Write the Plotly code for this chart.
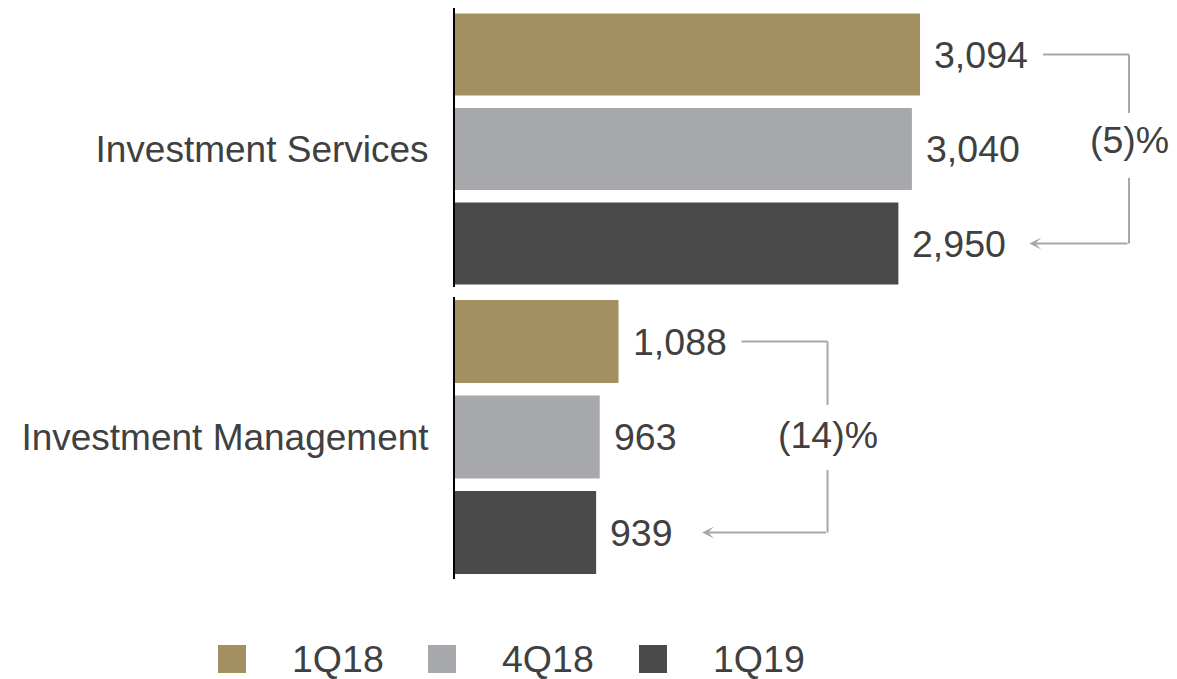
import plotly.graph_objects as go

# ---------------- data ----------------
categories = ["Investment Services", "Investment Management"]
series = ["1Q18", "4Q18", "1Q19"]
values_1q18 = [3094, 1088]
values_4q18 = [3040, 963]
values_1q19 = [2950, 939]
changes = ["(5)%", "(14)%"]

# ---------------- style ----------------
colors = ["#A38F5F", "#A7A8AC", "#4A4A4A"]
text_color = "#404040"
bracket_color = "#A6A7AA"
FONT = "Liberation Sans, Arial, sans-serif"
FS = 37.5
FS_CAT = 37

OFF = 8                      # page body margin compensation
W, H = 1177 - OFF, 679 - OFF
L = 455 - OFF                # left edge of bars (px in figure)
PX = 0.1503                  # px per data unit
xmax = (W - L) / PX


def py(ref_px):
    """reference-image y pixel -> figure paper fraction"""
    return min(1.0, max(0.0, 1 - (ref_px - OFF) / H))


def pxx(ref_px):
    """reference-image x pixel -> figure paper fraction (relative to plot area)"""
    return (ref_px - OFF - L) / (W - L)


series_values = [values_1q18, values_4q18, values_1q19]
xaxes = ["x", "x2"]
yaxes = ["y", "y2"]

fig = go.Figure()
for i, (name, vals, col) in enumerate(zip(series, series_values, colors)):
    for j, cat in enumerate(categories):
        fig.add_trace(go.Bar(
            x=[vals[j]], y=[cat], orientation="h", name=name,
            marker=dict(color=col, line=dict(width=0)),
            showlegend=False, xaxis=xaxes[j], yaxis=yaxes[j],
            hovertemplate=f"{name}: %{{x:,}}<extra></extra>",
        ))

annotations = []
shapes = []
offsets = [-1 / 3, 0, 1 / 3]

# value labels
for i, vals in enumerate(series_values):
    for j in range(len(categories)):
        annotations.append(dict(
            x=vals[j], y=offsets[i], xref=xaxes[j], yref=yaxes[j],
            text=f"{vals[j]:,}", showarrow=False, xanchor="left", yanchor="middle",
            xshift=12, font=dict(family=FONT, size=FS, color=text_color),
        ))

# change brackets
start_px = 123
vert_px = 209
tip_px = [131, 106]
gap = [(-0.127, 0.102), (-0.112, 0.115)]
text_shift = [9, 2]
for j in range(len(categories)):
    xr, yr = xaxes[j], yaxes[j]
    x_start = values_1q18[j] + start_px / PX
    x_vert = values_1q18[j] + vert_px / PX
    x_tip = values_1q19[j] + tip_px[j] / PX
    line = dict(color=bracket_color, width=2)
    shapes.append(dict(type="line", xref=xr, yref=yr, x0=x_start, x1=x_vert,
                       y0=offsets[0], y1=offsets[0], line=line))
    shapes.append(dict(type="line", xref=xr, yref=yr, x0=x_vert, x1=x_vert,
                       y0=offsets[0], y1=gap[j][0], line=line))
    shapes.append(dict(type="line", xref=xr, yref=yr, x0=x_vert, x1=x_vert,
                       y0=gap[j][1], y1=offsets[2], line=line))
    annotations.append(dict(
        x=x_tip, y=offsets[2], ax=x_vert, ay=offsets[2], xref=xr, yref=yr,
        axref=xr, ayref=yr, text="", showarrow=True, arrowhead=3, arrowsize=1,
        arrowwidth=2, arrowcolor=bracket_color, standoff=0, startstandoff=0,
    ))
    annotations.append(dict(
        x=x_vert, y=0, xref=xr, yref=yr, text=changes[j], showarrow=False,
        xanchor="center", yanchor="middle", yshift=text_shift[j],
        font=dict(family=FONT, size=FS, color=text_color),
    ))

# manual legend
sq_left_px = [218, 428, 639]
sq_size = 28
leg_center_px = 659
for i, (name, col) in enumerate(zip(series, colors)):
    shapes.append(dict(type="rect", xref="paper", yref="paper",
                       x0=pxx(sq_left_px[i]), x1=pxx(sq_left_px[i] + sq_size),
                       y0=py(leg_center_px + sq_size / 2), y1=py(leg_center_px - sq_size / 2),
                       fillcolor=col, line=dict(width=0)))
    annotations.append(dict(
        x=pxx(sq_left_px[i] + 72), y=py(leg_center_px),
        xref="paper", yref="paper", text=name, showarrow=False,
        xanchor="left", yanchor="middle",
        font=dict(family=FONT, size=FS, color=text_color),
    ))

xa = dict(domain=[0, 1], range=[0, xmax], visible=False, fixedrange=True)
ya = dict(type="category", showline=True, linecolor="#000000", linewidth=2,
          ticks="", ticklabelstandoff=17, showgrid=False, zeroline=False,
          tickfont=dict(family=FONT, size=FS_CAT, color=text_color), fixedrange=True)

fig.update_layout(
    width=W, height=H,
    margin=dict(l=L, r=0, t=0, b=0, autoexpand=False),
    paper_bgcolor="white", plot_bgcolor="white",
    barmode="group", bargap=0, bargroupgap=0.13,
    xaxis=dict(**xa, anchor="y"),
    xaxis2=dict(**xa, anchor="y2"),
    yaxis=dict(**ya, anchor="x", domain=[py(287), 1.0], range=[0.4868, -0.4974]),
    yaxis2=dict(**ya, anchor="x2", domain=[py(579), py(297)], range=[0.4956, -0.4887]),
    showlegend=False,
    shapes=shapes, annotations=annotations,
)

fig.write_html("out.html")
